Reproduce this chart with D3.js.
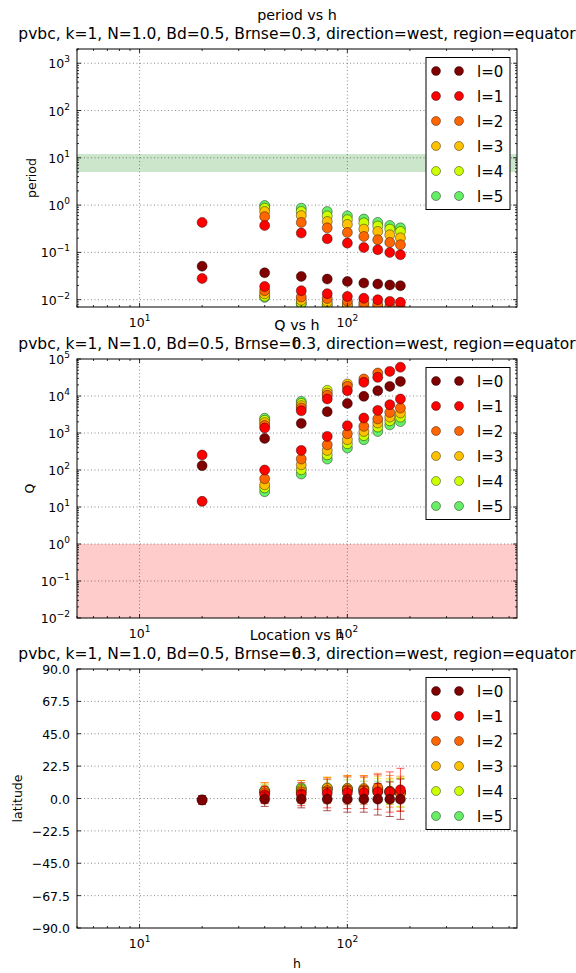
<!DOCTYPE html>
<html>
<head>
<meta charset="utf-8">
<script src="https://cdn.jsdelivr.net/npm/d3@7"></script>
<style>
  body { margin: 0; background: #fff; }
  svg { display: block; }
  text { font-family: "DejaVu Sans", sans-serif; fill: #000; }
</style>
</head>
<body>
<svg id="fig" width="576" height="973"></svg>
<script>
// ---- data -------------------------------------------------------------
const hValues = [20, 40, 60, 80, 100, 120, 140, 160, 180];
const degreeLabels = ["l=0", "l=1", "l=2", "l=3", "l=4", "l=5"];
const degreeColors = ["#800000", "#ff0000", "#ff6600", "#ffc000", "#ccff00", "#66ee66"];
const subtitle = "pvbc, k=1, N=1.0, Bd=0.5, Brnse=0.3, direction=west, region=equator";

// period, slow branch (rows: l=0..5, columns: hValues)
const periodSlow = [
  [null, null, null, null, null, null, null, null, null],
  [0.43, 0.37, 0.256, 0.194, 0.157, 0.127, 0.114, 0.0995, 0.089],
  [null, 0.57, 0.43, 0.33, 0.264, 0.217, 0.185, 0.162, 0.145],
  [null, 0.73, 0.60, 0.45, 0.39, 0.31, 0.277, 0.235, 0.203],
  [null, 0.86, 0.73, 0.59, 0.49, 0.42, 0.36, 0.31, 0.277],
  [null, 0.98, 0.86, 0.73, 0.59, 0.506, 0.43, 0.37, 0.33]
];
// period, fast branch
const periodFast = [
  [0.051, 0.037, 0.031, 0.0273, 0.0243, 0.0225, 0.0214, 0.0204, 0.0197],
  [0.028, 0.019, 0.0155, 0.0134, 0.0117, 0.0107, 0.0100, 0.0092, 0.0088],
  [null, 0.0155, 0.0114, 0.0106, 0.0093, 0.0086, 0.0079, 0.0072, 0.0068],
  [null, 0.0133, 0.0097, 0.0090, 0.0081, 0.0075, 0.0070, 0.0065, 0.0061],
  [null, 0.0118, 0.0086, 0.0080, 0.0074, 0.0068, 0.0063, 0.0059, 0.0055],
  [null, 0.0112, 0.0080, 0.0073, 0.0068, 0.0062, 0.0058, 0.0054, 0.0050]
];
// quality factor, fast branch (high Q)
const qFast = [
  [131, 714, 1820, 3770, 6300, 9770, 13900, 18200, 24800],
  [254, 1365, 3980, 8300, 13900, 23400, 31900, 46200, 60000],
  [null, 1600, 4730, 10400, 18200, 28800, 41700, null, null],
  [null, 1900, 5470, 12000, 21100, null, null, null, null],
  [null, 2200, 6300, 14200, null, null, null, null, null],
  [null, 2500, 7150, null, null, null, null, null, null]
];
// quality factor, slow branch (low Q)
const qSlow = [
  [null, null, null, null, null, null, null, null, null],
  [14.2, 100, 339, 809, 1575, 2540, 4080, 5820, 8300],
  [null, 58, 198, 480, 956, 1515, 2400, 3600, 4730],
  [null, 40, 139, 339, 661, 1100, 1870, 2690, 3470],
  [null, 33, 102, 258, 513, 850, 1450, 2140, 2690],
  [null, 26, 78, 198, 394, 661, 1100, 1660, 2040]
];
// latitude of the mode and its spread
const latitude = [
  [-1, -0.5, -0.5, -0.5, -0.5, -0.5, -0.5, -0.5, -0.5],
  [-1, 2.5, 3, 3.5, 4, 4, 4.5, 4.5, 6],
  [null, 4, 4.5, 5.5, 6, 6, 7.5, 5, 3.5],
  [null, 5, 5.5, 7, 7, 7, 6.5, 5, 4],
  [null, 5, 6.5, 7.5, 7, 6.5, 6, 5, 4.5],
  [null, 5.5, 7.5, 7, 6, 5, 5, 4, 4]
];
const latitudeErr = [
  [3, 5, 6, 8, 9, 9, 11, 12, 14],
  [3, 6, 8, 10, 11, 11, 12, 14, 15],
  [null, 7, 8, 9, 10, 10, 10, 11, 12],
  [null, 6, 7, 8, 9, 9, 9, 9, 10],
  [null, 5, 6, 7, 8, 8, 8, 8, 10],
  [null, 4, 5, 6, 7, 7, 7, 8, 10]
];
const periodBand = [5, 12];
const qBand = [0.01, 1];
const latTicks = [-90, -67.5, -45, -22.5, 0, 22.5, 45, 67.5, 90];

// ---- layout -----------------------------------------------------------
const svg = d3.select("#fig");
const left = 77, right = 517;
const x = d3.scaleLog().domain([5, 655]).range([left, right]);

const panels = [
  { title: "period vs h", ylabel: "period", top: 49, bottom: 307, labelX: 36,
    y: d3.scaleLog().domain([0.007, 2000]), log: true },
  { title: "Q vs h", ylabel: "Q", top: 359, bottom: 618, labelX: 34,
    y: d3.scaleLog().domain([0.01, 1e5]), log: true },
  { title: "Location vs h", ylabel: "latitude", top: 669, bottom: 928, labelX: 22,
    y: d3.scaleLinear().domain([-90, 90]), log: false }
];
panels.forEach(p => p.y.range([p.bottom, p.top]));

function logMinor(domain) {
  const out = [];
  const lo = Math.floor(Math.log10(domain[0])), hi = Math.ceil(Math.log10(domain[1]));
  for (let d = lo; d <= hi; d++) {
    for (let k = 2; k <= 9; k++) {
      const v = k * Math.pow(10, d);
      if (v >= domain[0] && v <= domain[1]) out.push(v);
    }
  }
  return out;
}
function logMajor(domain) {
  const out = [];
  const lo = Math.ceil(Math.log10(domain[0]) - 1e-9), hi = Math.floor(Math.log10(domain[1]) + 1e-9);
  for (let d = lo; d <= hi; d++) out.push(d);
  return out;
}
function powLabel(sel, exp, size, supSize, supShift) {
  sel.append("tspan").style("font-size", size + "px").text("10");
  sel.append("tspan").style("font-size", supSize + "px").attr("dy", -supShift)
     .text(exp < 0 ? "\u2212" + (-exp) : String(exp));
}

const xMajors = logMajor(x.domain());
const xMinors = logMinor(x.domain());
// series are drawn from the highest degree down, so l=0 ends up on top
const drawOrder = d3.range(degreeColors.length).reverse();

panels.forEach((p, pi) => {
  const g = svg.append("g");
  const clipId = "clip" + pi;
  svg.append("clipPath").attr("id", clipId).append("rect")
    .attr("x", left).attr("y", p.top).attr("width", right - left).attr("height", p.bottom - p.top);

  const yMajorVals = p.log ? logMajor(p.y.domain()).map(d => Math.pow(10, d)) : latTicks;

  // shaded bands
  if (pi === 0) {
    g.append("rect").attr("clip-path", `url(#${clipId})`)
      .attr("x", left).attr("width", right - left)
      .attr("y", p.y(periodBand[1])).attr("height", p.y(periodBand[0]) - p.y(periodBand[1]))
      .attr("fill", "#008000").attr("fill-opacity", 0.2);
  }
  if (pi === 1) {
    g.append("rect").attr("clip-path", `url(#${clipId})`)
      .attr("x", left).attr("width", right - left)
      .attr("y", p.y(qBand[1])).attr("height", p.y(qBand[0]) - p.y(qBand[1]))
      .attr("fill", "#ff0000").attr("fill-opacity", 0.2);
  }

  // grid
  const grid = g.append("g").attr("stroke", "#000").attr("stroke-width", 0.6)
    .attr("stroke-dasharray", "1,2.5").attr("opacity", 0.75);
  xMajors.forEach(d => {
    const xv = x(Math.pow(10, d));
    grid.append("line").attr("x1", xv).attr("x2", xv).attr("y1", p.top).attr("y2", p.bottom);
  });
  yMajorVals.forEach(v => {
    const yv = p.y(v);
    if (yv > p.top + 0.5 && yv < p.bottom - 0.5)
      grid.append("line").attr("x1", left).attr("x2", right).attr("y1", yv).attr("y2", yv);
  });

  // data
  const data = g.append("g").attr("clip-path", `url(#${clipId})`);
  drawOrder.forEach(l => {
    const col = degreeColors[l];
    const pts = [];
    if (pi === 0) {
      hValues.forEach((h, i) => {
        if (periodFast[l][i] != null) pts.push([h, periodFast[l][i]]);
        if (periodSlow[l][i] != null) pts.push([h, periodSlow[l][i]]);
      });
    } else if (pi === 1) {
      hValues.forEach((h, i) => {
        if (qFast[l][i] != null) pts.push([h, qFast[l][i]]);
        if (qSlow[l][i] != null) pts.push([h, qSlow[l][i]]);
      });
    } else {
      hValues.forEach((h, i) => {
        if (latitude[l][i] != null) pts.push([h, latitude[l][i], latitudeErr[l][i]]);
      });
      const eb = data.append("g").attr("stroke", col).attr("stroke-width", 1).attr("stroke-opacity", 0.65);
      pts.forEach(d => {
        const cx = x(d[0]), y1 = p.y(d[1] - d[2]), y2 = p.y(d[1] + d[2]);
        eb.append("line").attr("x1", cx).attr("x2", cx).attr("y1", y1).attr("y2", y2);
        eb.append("line").attr("x1", cx - 4).attr("x2", cx + 4).attr("y1", y1).attr("y2", y1);
        eb.append("line").attr("x1", cx - 4).attr("x2", cx + 4).attr("y1", y2).attr("y2", y2);
      });
    }
    data.append("g").selectAll("circle").data(pts).join("circle")
      .attr("cx", d => x(d[0])).attr("cy", d => p.y(d[1])).attr("r", 5)
      .attr("fill", col).attr("stroke", "#000").attr("stroke-width", 0.5).attr("stroke-opacity", 0.8);
  });

  // ticks (inward, all four sides)
  const ticks = g.append("g").attr("stroke", "#000").attr("stroke-width", 0.8);
  const tickLine = (x1, y1, x2, y2) => ticks.append("line").attr("x1", x1).attr("y1", y1).attr("x2", x2).attr("y2", y2);
  xMajors.forEach(d => {
    const xv = x(Math.pow(10, d));
    tickLine(xv, p.bottom, xv, p.bottom - 4); tickLine(xv, p.top, xv, p.top + 4);
  });
  xMinors.forEach(v => {
    const xv = x(v);
    tickLine(xv, p.bottom, xv, p.bottom - 2); tickLine(xv, p.top, xv, p.top + 2);
  });
  yMajorVals.forEach(v => {
    const yv = p.y(v);
    tickLine(left, yv, left + 4, yv); tickLine(right, yv, right - 4, yv);
  });
  if (p.log) {
    logMinor(p.y.domain()).forEach(v => {
      const yv = p.y(v);
      tickLine(left, yv, left + 2, yv); tickLine(right, yv, right - 2, yv);
    });
  }

  // frame
  g.append("rect").attr("x", left).attr("y", p.top).attr("width", right - left).attr("height", p.bottom - p.top)
    .attr("fill", "none").attr("stroke", "#000").attr("stroke-width", 1);

  // tick labels
  xMajors.forEach(d => {
    const t = g.append("text").attr("x", x(Math.pow(10, d))).attr("y", p.bottom + 20).attr("text-anchor", "middle");
    powLabel(t, d, 12.5, 9, 6);
  });
  yMajorVals.forEach(v => {
    const t = g.append("text").attr("x", 70).attr("y", p.y(v) + 5).attr("text-anchor", "end");
    if (p.log) powLabel(t, Math.round(Math.log10(v)), 12.5, 9, 6);
    else t.style("font-size", "12.5px").text(v.toFixed(1).replace("-", "\u2212"));
  });

  // axis labels
  g.append("text").attr("x", (left + right) / 2).attr("y", p.bottom + 40).attr("text-anchor", "middle")
    .style("font-size", "12.5px").text("h");
  g.append("text").attr("transform", `translate(${p.labelX},${(p.top + p.bottom) / 2}) rotate(-90)`)
    .attr("text-anchor", "middle").style("font-size", "12.5px").text(p.ylabel);

  // titles
  g.append("text").attr("x", (left + right) / 2).attr("y", p.top - 29).attr("text-anchor", "middle")
    .style("font-size", "14.3px").text(p.title);
  g.append("text").attr("x", (left + right) / 2).attr("y", p.top - 10).attr("text-anchor", "middle")
    .style("font-size", "15.5px").text(subtitle);

  // legend
  const lg = g.append("g");
  lg.append("rect").attr("x", 426).attr("y", p.top + 8.5).attr("width", 84).attr("height", 152)
    .attr("fill", "#fff").attr("stroke", "#000").attr("stroke-width", 1);
  degreeLabels.forEach((lab, l) => {
    const yy = p.top + 22 + l * 25;
    [436, 459].forEach(cx => lg.append("circle").attr("cx", cx).attr("cy", yy).attr("r", 4.5)
      .attr("fill", degreeColors[l]).attr("stroke", "#000").attr("stroke-width", 0.5).attr("stroke-opacity", 0.8));
    lg.append("text").attr("x", 477).attr("y", yy + 5.5).style("font-size", "15px").text(lab);
  });
});
</script>
</body>
</html>
